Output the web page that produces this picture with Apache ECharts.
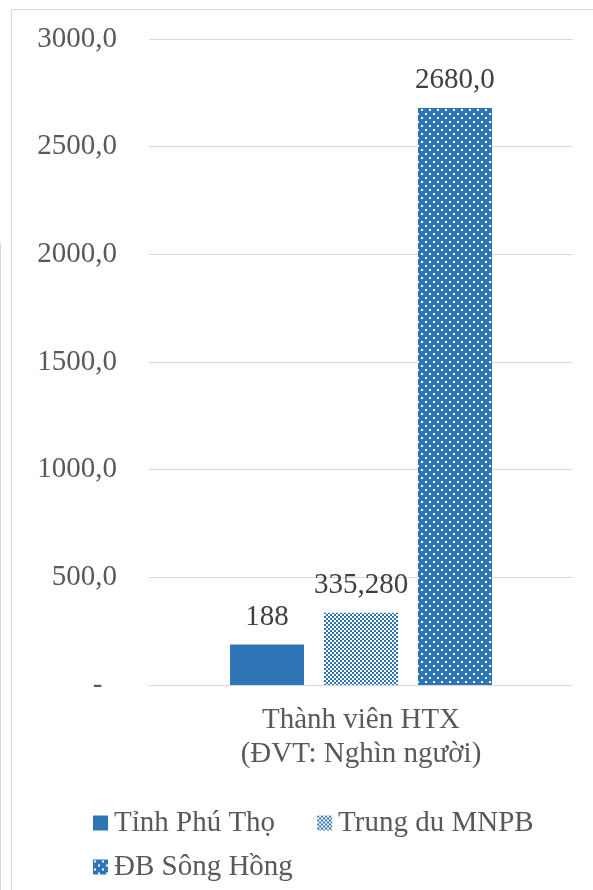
<!DOCTYPE html>
<html>
<head>
<meta charset="utf-8">
<script src="https://cdn.jsdelivr.net/npm/echarts@6/dist/echarts.min.js"></script>
<style>
  body { margin: 0; background: #fff; }
  .frame { position: absolute; left: 11px; top: 9px; width: 620px; height: 920px; border: 1px solid #D9D9D9; }
  .edge { position: absolute; left: 0; top: 243px; width: 1px; height: 700px; background: #D9D9D9; }
  #chart { position: absolute; left: 0; top: 0; width: 593px; height: 890px; }
</style>
</head>
<body>
<div class="frame"></div>
<div class="edge"></div>
<div id="chart"></div>
<script>
const categories = ['Thành viên HTX\n(ĐVT: Nghìn người)']
const seriesNames = ['Tỉnh Phú Thọ', 'Trung du MNPB', 'ĐB Sông Hồng']
const seriesValues = [[188], [335.28], [2680]]
const labelDecimals = [0, 3, 1]
const yMin = 0
const yMax = 3000
const yStep = 500

const BLUE = '#2E75B6'
const FONT = "'Liberation Serif', 'Times New Roman', serif"

const makePattern = (draw, w, h) => {
  const c = document.createElement('canvas')
  c.width = w
  c.height = h
  draw(c.getContext('2d'))
  return { image: c, repeat: 'repeat' }
}

// checker pattern for Trung du MNPB
const checker = makePattern(ctx => {
  ctx.fillStyle = '#ffffff'
  ctx.fillRect(0, 0, 4, 4)
  ctx.fillStyle = BLUE
  ctx.fillRect(0, 0, 2, 2)
  ctx.fillRect(2, 2, 2, 2)
}, 4, 4)

// white dots on blue for ĐB Sông Hồng
const dots = makePattern(ctx => {
  ctx.fillStyle = BLUE
  ctx.fillRect(0, 0, 8, 8)
  ctx.fillStyle = '#ffffff'
  ctx.fillRect(1, 1, 2, 2)
  ctx.fillRect(5, 5, 2, 2)
}, 8, 8)

const fills = [BLUE, checker, dots]

const fmtNum = (v, d) => d === 0 ? String(v) : v.toFixed(d).replace('.', ',')

const chart = echarts.init(document.getElementById('chart'))
const option = {
  animation: false,
  grid: { left: 149, right: 20, top: 39, bottom: 205 },
  xAxis: {
    type: 'category',
    data: categories,
    axisLine: { lineStyle: { color: '#D9D9D9', width: 1 } },
    axisTick: { show: false },
    axisLabel: {
      color: '#595959', fontFamily: FONT, fontSize: 29, lineHeight: 34, margin: 18,
    },
  },
  yAxis: {
    type: 'value',
    min: yMin,
    max: yMax,
    interval: yStep,
    axisLine: { show: false },
    axisTick: { show: false },
    splitLine: { lineStyle: { color: '#D9D9D9', width: 1 } },
    axisLabel: {
      color: '#595959', fontFamily: FONT, fontSize: 29, margin: 32,
      formatter: v => v === 0 ? '-  ' : v.toFixed(1).replace('.', ','),
    },
  },
  legend: [
    {
      data: seriesNames.slice(0, 2),
      left: 88, top: 803, itemWidth: 15, itemHeight: 15, itemGap: 42,
      icon: 'rect',
      textStyle: { color: '#595959', fontFamily: FONT, fontSize: 29, lineHeight: 30, padding: [0, 0, 0, 1] },
    },
    {
      data: seriesNames.slice(2),
      left: 88, top: 847, itemWidth: 15, itemHeight: 15,
      icon: 'rect',
      textStyle: { color: '#595959', fontFamily: FONT, fontSize: 29, lineHeight: 30, padding: [0, 0, 0, 1] },
    },
  ],
  series: seriesNames.map((name, i) => ({
    name,
    type: 'bar',
    data: seriesValues[i],
    barWidth: 74,
    barGap: '27%',
    itemStyle: { color: fills[i] },
    label: {
      show: true,
      position: 'top',
      distance: 13,
      color: '#404040',
      fontFamily: FONT,
      fontSize: 29,
      formatter: p => fmtNum(p.value, labelDecimals[i]),
    },
  })),
}
chart.setOption(option)
</script>
</body>
</html>
